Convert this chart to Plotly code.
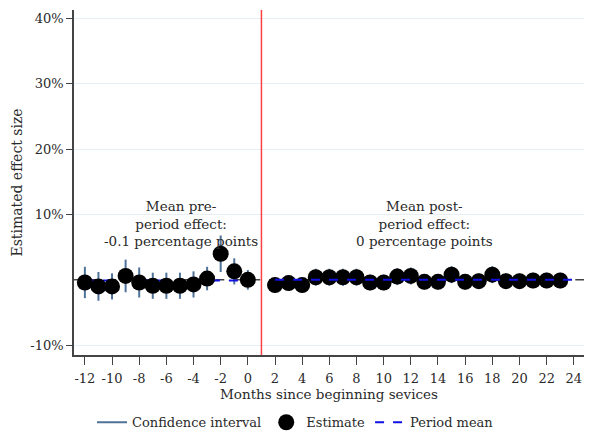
import plotly.graph_objects as go

months = [-12, -11, -10, -9, -8, -7, -6, -5, -4, -3, -2, -1, 0,
          2, 3, 4, 5, 6, 7, 8, 9, 10, 11, 12, 13, 14, 15, 16, 17, 18, 19, 20, 21, 22, 23]
estimates = [-0.4, -1.0, -1.0, 0.6, -0.4, -0.9, -0.9, -0.9, -0.7, 0.2, 4.0, 1.3, 0.0,
             -0.8, -0.5, -0.8, 0.4, 0.4, 0.4, 0.4, -0.4, -0.4, 0.5, 0.6, -0.3, -0.3, 0.8, -0.3, -0.2, 0.8,
             -0.2, -0.2, -0.1, -0.1, -0.1]
ci_half = [2.4, 2.2, 2.0, 2.5, 2.3, 2.0, 2.0, 2.0, 2.0, 1.8, 2.8, 2.0, 1.5,
           1.2, 1.2, 1.2, 1.3, 1.3, 1.3, 1.3, 1.2, 1.2, 1.3, 1.3, 1.2, 1.2, 1.3, 1.2, 1.2, 1.3,
           1.2, 1.2, 1.2, 1.2, 1.2]
pre_mean_x = [-12, 0]
pre_mean = -0.1
post_mean_x = [2, 24]
post_mean = 0.0
treat_month = 1
x_ticks = list(range(-12, 25, 2))
x_tick_labels = [str(v) for v in x_ticks]
y_ticks = [-10, 10, 20, 30, 40]
y_tick_labels = ["-10%", "10%", "20%", "30%", "40%"]

FONT = "DejaVu Serif"
TXT = "#2a2a2a"

ci_x, ci_y = [], []
for m, e, h in zip(months, estimates, ci_half):
    ci_x += [m, m, None]
    ci_y += [e - h, e + h, None]

fig = go.Figure()
fig.add_trace(go.Scatter(x=[-13, 25.5], y=[0, 0], mode="lines",
                         line=dict(color="#444444", width=1.5, dash="dash"),
                         showlegend=False, hoverinfo="skip"))
fig.add_trace(go.Scatter(x=ci_x, y=ci_y, mode="lines", name="Confidence interval",
                         line=dict(color="#4f7299", width=2), legendrank=1))
fig.add_trace(go.Scatter(x=pre_mean_x, y=[pre_mean] * 2, mode="lines", showlegend=False,
                         line=dict(color="#1010e0", width=2, dash="dash")))
fig.add_trace(go.Scatter(x=months, y=estimates, mode="markers", name="Estimate",
                         marker=dict(color="black", size=16), legendrank=2))
fig.add_trace(go.Scatter(x=post_mean_x, y=[post_mean] * 2, mode="lines", name="Period mean",
                         line=dict(color="#1010e0", width=2, dash="dash"), legendrank=3))

fig.add_shape(type="line", x0=treat_month, x1=treat_month, y0=0, y1=1, yref="paper",
              line=dict(color="#ff4040", width=1.5))

fig.add_annotation(x=-4.9, y=12.9, text="Mean pre-<br>period effect:<br>-0.1 percentage points",
                   showarrow=False, font=dict(family=FONT, size=13.5, color=TXT), yanchor="top",
                   align="center")
fig.add_annotation(x=13, y=12.9, text="Mean post-<br>period effect:<br>0 percentage points",
                   showarrow=False, font=dict(family=FONT, size=13.5, color=TXT), yanchor="top",
                   align="center")

fig.update_layout(
    width=591, height=434,
    margin=dict(l=74, r=7, t=10, b=79, autoexpand=False),
    plot_bgcolor="white", paper_bgcolor="white",
    font=dict(family=FONT, size=13, color=TXT),
    xaxis=dict(range=[-12.8, 24.75], tickvals=x_ticks, ticktext=x_tick_labels, tickangle=0,
               showgrid=False, zeroline=False, automargin=False,
               showline=True, linecolor="#444444", linewidth=1.5, ticks="outside",
               ticklen=8, tickcolor="#444444", tickfont=dict(size=13),
               ticklabeloverflow="allow", ticklabelstandoff=3,
               title=dict(text="Months since beginning sevices", standoff=0,
                          font=dict(family=FONT, size=13.5, color=TXT))),
    yaxis=dict(range=[-11.5, 41.3], tickvals=y_ticks, ticktext=y_tick_labels,
               showgrid=True, gridcolor="#e6eef5", zeroline=False, automargin=False,
               showline=True, linecolor="#444444", linewidth=1.5, ticks="outside",
               ticklen=6, tickcolor="#444444", tickfont=dict(size=13),
               title=dict(text="Estimated effect size", standoff=4,
                          font=dict(family=FONT, size=14, color=TXT))),
    legend=dict(orientation="h", xref="container", yref="container", x=0.5, y=0.027,
                xanchor="center", yanchor="middle",
                font=dict(family=FONT, size=13, color=TXT)),
)

fig.write_html("out.html", config={"displayModeBar": False},
               post_script="document.body.style.margin='0';document.body.style.overflow='hidden';")
